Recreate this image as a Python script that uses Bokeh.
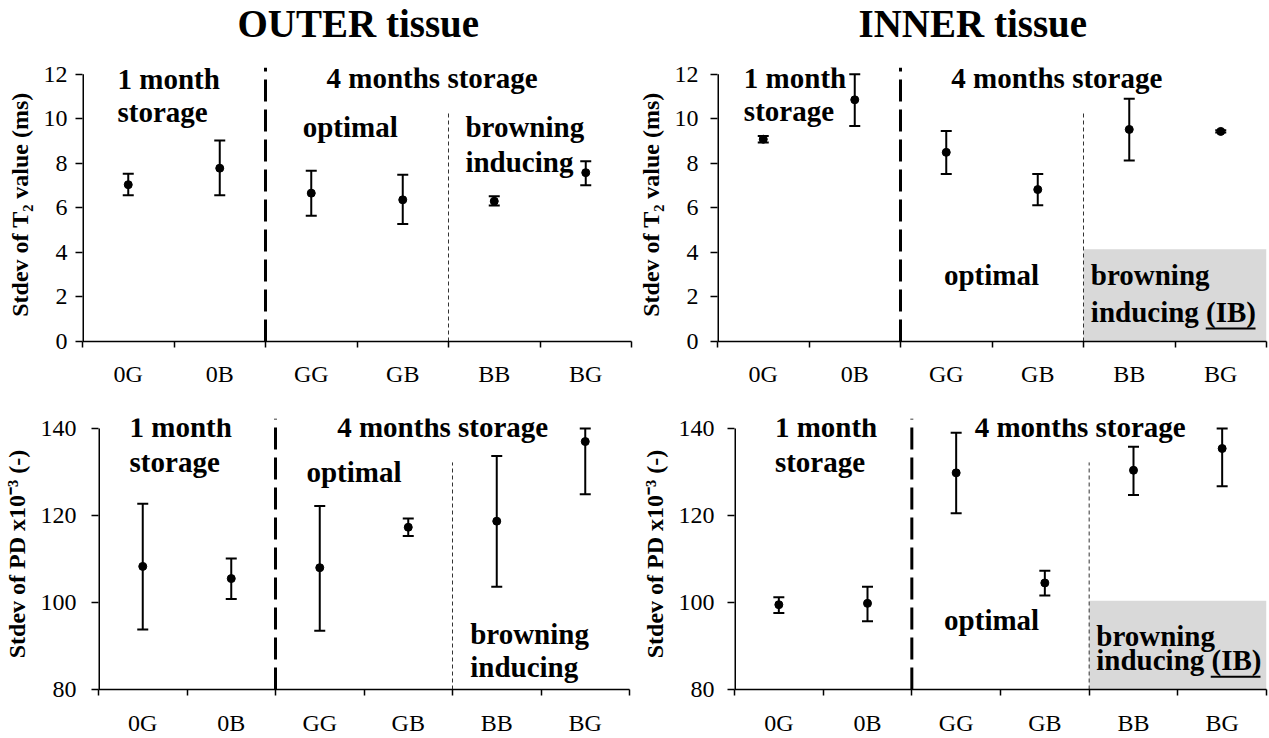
from bokeh.plotting import figure
from bokeh.models import Range1d, FixedTicker, Whisker, ColumnDataSource, TeeHead
from bokeh.layouts import column, row
from bokeh.embed import file_html
from bokeh.resources import INLINE
from bokeh.core.properties import value

# ---- data -------------------------------------------------------------
categories = ["0G", "0B", "GG", "GB", "BB", "BG"]

outer_t2_mean = [7.04, 7.78, 6.66, 6.36, 6.30, 7.58]
outer_t2_low = [6.56, 6.56, 5.64, 5.27, 6.10, 7.01]
outer_t2_high = [7.53, 9.02, 7.66, 7.48, 6.52, 8.09]

inner_t2_mean = [9.08, 10.85, 8.49, 6.82, 9.52, 9.43]
inner_t2_low = [8.93, 9.67, 7.52, 6.12, 8.13, 9.38]
inner_t2_high = [9.23, 12.00, 9.45, 7.52, 10.90, 9.48]

outer_pd_mean = [108.3, 105.5, 108.0, 117.3, 118.7, 137.0]
outer_pd_low = [93.8, 100.8, 93.5, 115.3, 103.6, 124.9]
outer_pd_high = [122.7, 110.1, 122.2, 119.3, 133.7, 140.0]

inner_pd_mean = [99.5, 99.8, 129.8, 104.5, 130.4, 135.4]
inner_pd_low = [97.6, 95.7, 120.5, 101.6, 124.7, 126.7]
inner_pd_high = [101.2, 103.6, 139.0, 107.3, 135.8, 140.0]

t2_ticks = [0, 2, 4, 6, 8, 10, 12]
pd_ticks = [80, 100, 120, 140]

tissue_titles = ["OUTER tissue", "INNER tissue"]

SERIF = "Liberation Serif"
centers = [i + 0.5 for i in range(len(categories))]


def panel(mean, low, high, y0, y1, ytop, yticks, ylabel, width, height,
          bl, br, bt, bb, tick_standoff, xlab_standoff):
    p = figure(width=width, height=height,
               x_range=Range1d(0, len(categories)), y_range=Range1d(y0, ytop),
               output_backend="svg", toolbar_location=None,
               min_border_left=bl, min_border_right=br,
               min_border_top=bt, min_border_bottom=bb)
    p.outline_line_color = None
    p.xgrid.grid_line_color = None
    p.ygrid.grid_line_color = None
    p.background_fill_color = "white"
    p.border_fill_color = "white"

    # x axis: labels at category centres, tick marks on the boundaries
    xa = p.xaxis[0]
    xa.ticker = FixedTicker(ticks=centers, minor_ticks=list(range(len(categories) + 1)))
    xa.major_label_overrides = {c: lab for c, lab in zip(centers, categories)}
    xa.major_tick_line_color = None
    xa.major_tick_out = 0
    xa.major_tick_in = 0
    xa.minor_tick_out = 6
    xa.minor_tick_in = 0
    xa.minor_tick_line_color = "black"
    xa.minor_tick_line_width = 1.5
    xa.axis_line_width = 1.5
    xa.axis_line_color = "black"
    xa.major_label_text_font = SERIF
    xa.major_label_text_font_size = "24px"
    xa.major_label_text_color = "black"
    xa.major_label_standoff = xlab_standoff

    ya = p.yaxis[0]
    ya.ticker = FixedTicker(ticks=yticks)
    ya.axis_line_color = None
    ya.major_tick_out = 7
    ya.major_tick_in = 0
    ya.major_tick_line_width = 1.5
    ya.major_tick_line_color = "black"
    ya.minor_tick_line_color = None
    ya.major_label_text_font = SERIF
    ya.major_label_text_font_size = "24px"
    ya.major_label_text_color = "black"
    ya.major_label_standoff = tick_standoff
    ya.axis_label = ylabel
    ya.axis_label_text_font = SERIF
    ya.axis_label_text_font_style = "bold"
    ya.axis_label_text_font_size = "24px"
    ya.axis_label_text_color = "black"
    ya.axis_label_standoff = 8

    # vertical spine stops at the last tick value
    p.segment(x0=[0], y0=[y0], x1=[0], y1=[y1], line_width=3, line_color="black")

    src = ColumnDataSource(dict(x=centers, mean=mean, low=low, high=high))
    w = Whisker(base="x", upper="high", lower="low", source=src,
                line_width=2, line_color="black",
                upper_head=TeeHead(size=11, line_width=2, line_color="black"),
                lower_head=TeeHead(size=11, line_width=2, line_color="black"))
    w.level = "glyph"
    p.add_layout(w)
    p.scatter("x", "mean", source=src, size=8, color="black")
    return p


def storage_dividers(p, y0, ytop, thin_top):
    p.segment(x0=[2], y0=[y0], x1=[2], y1=[ytop], line_width=3,
              line_color="black", line_dash="22 8")
    p.segment(x0=[4], y0=[y0], x1=[4], y1=[thin_top], line_width=1,
              line_color="#333333", line_dash="4 3")


def words(p, xs, ys, texts):
    p.text(x=xs, y=ys, text=texts, text_font=value(SERIF), text_font_style="bold",
           text_font_size="29px", text_color="black",
           text_align="left", text_baseline="alphabetic")


T2_LABEL = "Stdev of T\u2082 value (ms)"
PD_LABEL = "Stdev of PD x10\u207b\u00b3 (-)"

# ---- heading strip with the two tissue titles ----------------------------
head = figure(width=1269, height=48, x_range=Range1d(0, 1269), y_range=Range1d(0, 48),
              output_backend="svg", toolbar_location=None,
              min_border_left=0, min_border_right=0, min_border_top=0, min_border_bottom=0)
head.axis.visible = False
head.xgrid.grid_line_color = None
head.ygrid.grid_line_color = None
head.outline_line_color = None
head.text(x=[237, 858], y=[25, 25], text=tissue_titles, text_font=value(SERIF),
          text_font_style="bold", text_font_size="39px", text_color="black",
          text_align="left", text_baseline="alphabetic")

# ---- OUTER, T2 --------------------------------------------------------
tl = panel(outer_t2_mean, outer_t2_low, outer_t2_high, 0, 12, 12.3, t2_ticks, T2_LABEL,
           634, 342, 82, 3, 19, 49, 8, 13)
storage_dividers(tl, 0, 12.3, 10.25)
words(tl, [0.383, 0.383, 2.667, 2.407, 4.185, 4.185],
      [11.80, 10.30, 11.82, 9.63, 9.63, 8.06],
      ["1 month", "storage", "4 months storage", "optimal", "browning", "inducing"])

# ---- INNER, T2 --------------------------------------------------------
tr = panel(inner_t2_mean, inner_t2_low, inner_t2_high, 0, 12, 12.3, t2_ticks, T2_LABEL,
           635, 342, 81, 3, 19, 49, 12, 13)
tr.quad(left=[4], right=[6], bottom=[0], top=[4.14], fill_color="#d9d9d9",
        line_color=None, level="underlay")
storage_dividers(tr, 0, 12.3, 10.25)
words(tr, [0.288, 0.288, 2.555, 2.475, 4.08, 4.08],
      [11.85, 10.33, 11.82, 2.98, 2.98, 1.32],
      ["1 month", "storage", "4 months storage", "optimal", "browning", "inducing (IB)"])
tr.segment(x0=[5.336], y0=[0.58], x1=[5.88], y1=[0.58], line_width=2, line_color="black")

# ---- OUTER, PD --------------------------------------------------------
bl = panel(outer_pd_mean, outer_pd_low, outer_pd_high, 80, 140, 142.3, pd_ticks, PD_LABEL,
           638, 348, 97, 9, 28, 46, 15, 14)
storage_dividers(bl, 80, 142.3, 132.2)
words(bl, [0.351, 0.351, 2.697, 2.35, 4.2, 4.2],
      [140.34, 132.29, 140.34, 129.89, 92.79, 85.19],
      ["1 month", "storage", "4 months storage", "optimal", "browning", "inducing"])

# ---- INNER, PD --------------------------------------------------------
br = panel(inner_pd_mean, inner_pd_low, inner_pd_high, 80, 140, 142.3, pd_ticks, PD_LABEL,
           631, 348, 93, 3, 28, 46, 13, 14)
br.quad(left=[4], right=[6], bottom=[80], top=[100.4], fill_color="#d9d9d9",
        line_color=None, level="underlay")
storage_dividers(br, 80, 142.3, 132.2)
words(br, [0.456, 0.456, 2.709, 2.364, 4.08, 4.08],
      [140.29, 132.39, 140.29, 95.9, 92.19, 86.69],
      ["1 month", "storage", "4 months storage", "optimal", "browning", "inducing (IB)"])
br.segment(x0=[5.371], y0=[82.95], x1=[5.932], y1=[82.95], line_width=2, line_color="black")

layout = column(head, row(tl, tr), row(bl, br))
open("out.html", "w").write(file_html(layout, INLINE))
